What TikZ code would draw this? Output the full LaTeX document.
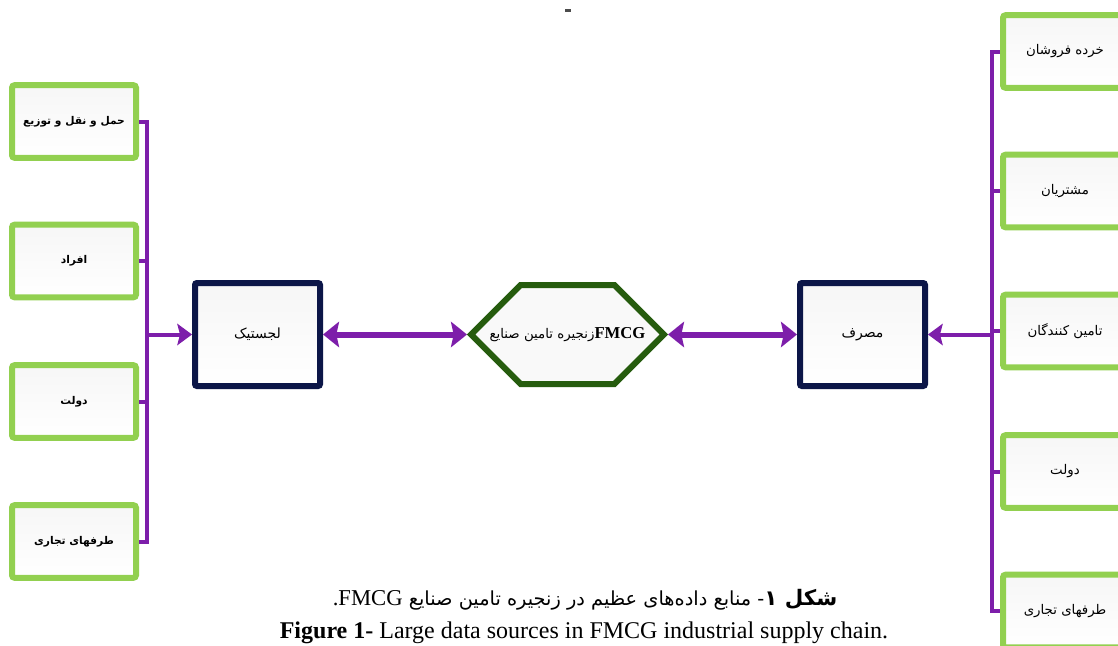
\documentclass[tikz,border=0pt]{standalone}
\usepackage{fontspec}
\setmainfont{Liberation Serif}
\newfontfamily\arabicfont[Script=Arabic]{DejaVu Sans}
\TeXXeTstate=1
\usetikzlibrary{arrows.meta}
\definecolor{lgreen}{RGB}{146,208,80}
\definecolor{navy}{RGB}{12,22,72}
\definecolor{dgreen}{RGB}{38,92,14}
\definecolor{purp}{RGB}{125,30,170}
\newcommand{\fa}[1]{\beginR #1\endR}
\begin{document}
\begin{tikzpicture}[x=0.75pt,y=-0.75pt,
  box/.style={line width=4.5pt, top color=gray!7, bottom color=white, inner sep=0pt},
  src/.style={box, draw=lgreen, rounded corners=2pt,
    minimum width=93pt, minimum height=54.5pt, font=\arabicfont\fontsize{10}{12}\selectfont},
  srcl/.style={src, font=\arabicfont\bfseries\fontsize{8}{10}\selectfont},
  core/.style={box, draw=navy, rounded corners=1.5pt,
    minimum width=93.75pt, minimum height=77.25pt, font=\arabicfont\fontsize{10.5}{12}\selectfont},
  hub/.style={minimum width=150.75pt, minimum height=78.75pt, inner sep=0pt, outer sep=0pt,
    font=\arabicfont\fontsize{10}{12}\selectfont},
  hexline/.style={draw=dgreen, line width=4.5pt, fill=gray!5, line join=miter},
  link/.style={draw=purp, line width=3pt},
  tip/.style={-{Stealth[length=11pt,width=16pt,inset=2pt]}},
  dbl/.style={draw=purp, line width=4.5pt, {Stealth[length=12pt,width=19pt,inset=2pt]}-{Stealth[length=12pt,width=19pt,inset=2pt]}},
]
\path[use as bounding box, clip] (0,0) rectangle (1118,646);
\fill[white] (0,0) rectangle (1118,646);
% stray mark at top
\fill[gray!60!black] (565,9) rectangle (571,12);

% left sources
\node[srcl] (l1) at (74,121.5) {\fa{حمل و نقل و توزیع}};
\node[srcl] (l2) at (74,261) {\fa{افراد}};
\node[srcl] (l3) at (74,401.5) {\fa{دولت}};
\node[srcl] (l4) at (74,541.5) {\fa{طرفهای تجاری}};

% right sources
\node[src] (r1) at (1065,51.5) {\fa{خرده فروشان}};
\node[src] (r2) at (1065,191) {\fa{مشتریان}};
\node[src] (r3) at (1065,331) {\fa{تامین کنندگان}};
\node[src] (r4) at (1065,471.5) {\fa{دولت}};
\node[src] (r5) at (1065,611) {\fa{طرفهای تجاری}};

% core nodes
\node[core] (lg) at (257.5,334.5) {\fa{لجستیک}};
\node[core] (ms) at (862.5,334.5) {\fa{مصرف}};

% hexagon
\coordinate (hc) at (567.5,334.5);
\path[hexline] (hc) ++(-96.3,0) -- ++(49.5,-49.5) -- ++(93.6,0) -- ++(49.5,49.5)
  -- ++(-49.5,49.5) -- ++(-93.6,0) -- cycle;
\node[hub] (hx) at (hc) {\fa{\beginL{\rmfamily\bfseries\fontsize{12.5}{14}\selectfont FMCG}\endL زنجیره تامین صنایع}};

% left bracket
\coordinate (lb) at (147,334.5);
\draw[link] (l1.east) -- (l1.east -| lb) -- (l4.east -| lb) -- (l4.east);
\draw[link] (l2.east) -- (l2.east -| lb);
\draw[link] (l3.east) -- (l3.east -| lb);
\draw[link, tip] (lb) -- (lg.west);

% right bracket
\coordinate (rb) at (992,334.5);
\draw[link] (r1.west) -- (r1.west -| rb) -- (r5.west -| rb) -- (r5.west);
\draw[link] (r2.west) -- (r2.west -| rb);
\draw[link] (r3.west) -- (r3.west -| rb);
\draw[link] (r4.west) -- (r4.west -| rb);
\draw[link, tip] (rb) -- (ms.east);

% double arrows
\draw[dbl] (lg.east) -- (hx.west);
\draw[dbl] (hx.east) -- (ms.west);

% caption
\node (cap1) at (585,600) {\arabicfont\fontsize{14.5}{17}\selectfont\fa{{\bfseries\fontsize{16}{18}\selectfont شکل ۱}- منابع داده‌های عظیم در زنجیره تامین صنایع \beginL{\rmfamily\fontsize{17}{19}\selectfont FMCG}\endL{\rmfamily\fontsize{17}{19}\selectfont.}}};
\node (cap2) at (584,633) {\fontsize{18}{20}\selectfont\textbf{Figure 1-} Large data sources in FMCG industrial supply chain.};
\end{tikzpicture}
\end{document}
